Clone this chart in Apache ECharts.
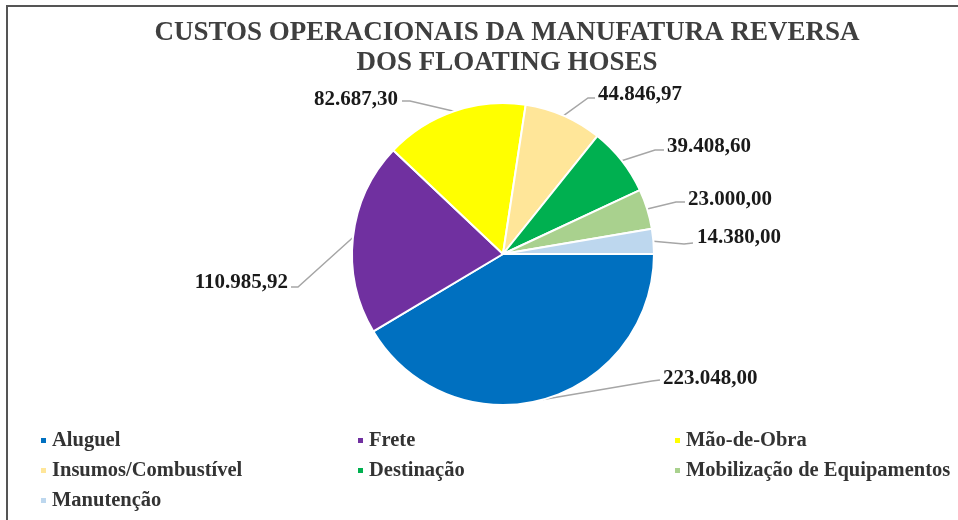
<!DOCTYPE html>
<html>
<head>
<meta charset="utf-8">
<script src="https://cdn.jsdelivr.net/npm/echarts@6/dist/echarts.min.js"></script>
<style>
  html, body { margin: 0; padding: 0; background: #fff; overflow: hidden; }
  #chart { width: 958px; height: 520px; }
  #frame {
    position: absolute; left: 6px; top: 5px; width: 980px; height: 540px;
    border-top: 2px solid #555; border-left: 2px solid #555; pointer-events: none;
  }
</style>
</head>
<body>
<div id="chart"></div>
<div id="frame"></div>
<script>
const categories = ["Aluguel", "Frete", "Mão-de-Obra", "Insumos/Combustível", "Destinação", "Mobilização de Equipamentos", "Manutenção"];
const values = [223048.0, 110985.92, 82687.3, 44846.97, 39408.6, 23000.0, 14380.0];
const colors = ["#0070c0", "#7030a0", "#ffff00", "#ffe699", "#00b050", "#a9d18e", "#bdd7ee"];

// pt-BR number format: 223.048,00
function fmt(v) {
  const parts = v.toFixed(2).split(".");
  return parts[0].replace(/\B(?=(\d{3})+(?!\d))/g, ".") + "," + parts[1];
}

// where each label sits (x, y, align) and the elbow of its leader line
const labelSpots = [
  { x: 663, y: 379, align: "left", elbow: [652, 381], end: [660, 380] },
  { x: 288, y: 283, align: "right", elbow: [298, 287], end: [291, 287] },
  { x: 398, y: 100, align: "right", elbow: [410, 101], end: [402, 101] },
  { x: 598, y: 95, align: "left", elbow: [588, 98], end: [595, 98] },
  { x: 667, y: 147, align: "left", elbow: [655, 150], end: [664, 150] },
  { x: 688, y: 200, align: "left", elbow: [676, 202], end: [685, 202] },
  { x: 697, y: 238, align: "left", elbow: [684, 244], end: [693, 243] },
];

const serif = "'Liberation Serif', 'Times New Roman', serif";

const chart = echarts.init(document.getElementById("chart"));

function legendCol(names, left) {
  return {
    orient: "vertical",
    left: left,
    top: 425,
    data: names,
    icon: "rect",
    itemWidth: 7,
    itemHeight: 7,
    itemGap: 9,
    selectedMode: false,
    textStyle: {
      fontFamily: serif,
      fontWeight: "bold",
      fontSize: 20.5,
      lineHeight: 20,
      color: "#333",
      padding: [0, 0, 0, 0],
    },
  };
}

chart.setOption({
  animation: false,
  color: colors,
  title: {
    text: "CUSTOS OPERACIONAIS DA MANUFATURA REVERSA\nDOS FLOATING HOSES",
    left: 502,
    textAlign: "center",
    top: 13,
    textStyle: {
      fontFamily: serif,
      fontWeight: "bold",
      fontSize: 27,
      lineHeight: 30,
      color: "#3f3f3f",
    },
  },
  legend: [
    legendCol([categories[0], categories[3], categories[6]], 34),
    legendCol([categories[1], categories[4]], 351),
    legendCol([categories[2], categories[5]], 668),
  ],
  series: [
    {
      type: "pie",
      center: [503, 254],
      radius: 151,
      startAngle: 0,
      clockwise: true,
      avoidLabelOverlap: false,
      itemStyle: { borderColor: "#fff", borderWidth: 2 },
      label: {
        show: true,
        position: "outside",
        formatter: (p) => fmt(p.value),
        fontFamily: serif,
        fontWeight: "bold",
        fontSize: 21,
        color: "#1a1a1a",
      },
      labelLine: {
        show: true,
        length: 10,
        length2: 10,
        lineStyle: { color: "#a6a6a6", width: 1.5 },
      },
      labelLayout: function (params) {
        const s = labelSpots[params.dataIndex];
        const pts = params.labelLinePoints;
        return {
          x: s.x,
          y: s.y,
          align: s.align,
          verticalAlign: "middle",
          labelLinePoints: [pts[0], s.elbow, s.end],
        };
      },
      emphasis: { disabled: true },
      data: categories.map((c, i) => ({ name: c, value: values[i] })),
    },
  ],
});
</script>
</body>
</html>
